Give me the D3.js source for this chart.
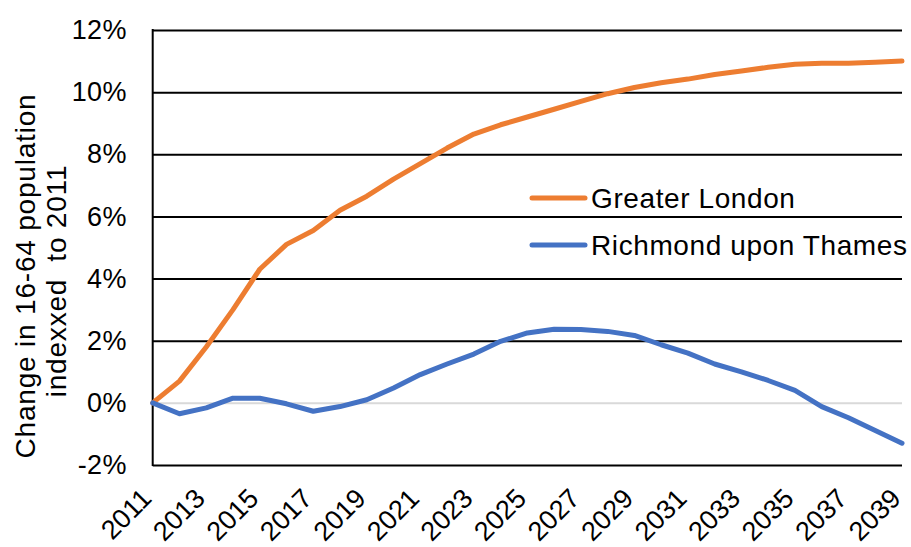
<!DOCTYPE html>
<html>
<head>
<meta charset="utf-8">
<script src="https://cdn.jsdelivr.net/npm/d3@7"></script>
<style>
  html, body { margin: 0; padding: 0; background: #fff; }
  svg { display: block; }
  text { font-family: Arial, "Liberation Sans", sans-serif; fill: #000; }
</style>
</head>
<body>
<svg id="chart" width="911" height="547"></svg>
<script>
// Working-age (16-64) population change relative to 2011, in percent
const years = d3.range(2011, 2040);
const greaterLondon = [0, 0.7, 1.8, 3.0, 4.3, 5.1, 5.55, 6.2, 6.65, 7.2, 7.7, 8.2, 8.65, 8.95, 9.2,
  9.45, 9.7, 9.95, 10.15, 10.3, 10.42, 10.57, 10.68, 10.8, 10.9, 10.93, 10.93, 10.96, 11.0];
const richmond = [0, -0.35, -0.16, 0.15, 0.15, -0.03, -0.27, -0.12, 0.1, 0.48, 0.91, 1.25, 1.57, 1.98, 2.25,
  2.37, 2.36, 2.3, 2.17, 1.87, 1.6, 1.25, 1.0, 0.72, 0.4, -0.12, -0.48, -0.89, -1.3];
const seriesNames = ["Greater London", "Richmond upon Thames"];
const seriesColors = ["#ED7D31", "#4472C4"];
const yTicks = [-2, 0, 2, 4, 6, 8, 10, 12];
const xTicks = d3.range(2011, 2040, 2);
const yTitle = ["Change in 16-64 population", "indexxed  to 2011"];

const svg = d3.select("#chart");
const plotLeft = 152.7, plotRight = 902, plotTop = 30, plotBottom = 465;

const x = d3.scaleLinear().domain([2011, 2039]).range([plotLeft, plotRight]);
const y = d3.scaleLinear().domain([-2, 12]).range([plotBottom, plotTop]);

// Horizontal gridlines (zero line in light grey)
const grid = svg.append("g")
  .attr("transform", `translate(${plotLeft},0)`)
  .call(d3.axisLeft(y).tickValues(yTicks).tickSize(-(plotRight - plotLeft)).tickFormat(""));
grid.select(".domain").remove();
grid.selectAll(".tick line")
  .attr("stroke", d => d === 0 ? "#d9d9d9" : "#000")
  .attr("stroke-width", 2);

// Left axis line
svg.append("line")
  .attr("x1", plotLeft).attr("x2", plotLeft)
  .attr("y1", plotTop - 1).attr("y2", plotBottom + 1)
  .attr("stroke", "#000").attr("stroke-width", 2);

// Y tick labels
const yAxis = svg.append("g")
  .attr("transform", `translate(${plotLeft - 26},0)`)
  .call(d3.axisLeft(y).tickValues(yTicks).tickSize(0).tickPadding(0).tickFormat(d => d + "%"));
yAxis.select(".domain").remove();
yAxis.selectAll("text")
  .style("font-size", "27px")
  .style("letter-spacing", "0.3px")
  .attr("font-family", "Arial, 'Liberation Sans', sans-serif")
  .attr("fill", "#000");

// X tick labels, rotated
const xAxis = svg.append("g")
  .attr("transform", `translate(0,${plotBottom})`)
  .call(d3.axisBottom(x).tickValues(xTicks).tickSize(0).tickFormat(d3.format("d")));
xAxis.select(".domain").remove();
xAxis.selectAll("text")
  .style("font-size", "27px")
  .attr("font-family", "Arial, 'Liberation Sans', sans-serif")
  .attr("fill", "#000")
  .attr("text-anchor", "end")
  .attr("dy", null)
  .attr("y", 0)
  .attr("transform", "translate(0,35) rotate(-45)");

// Series lines
const line = d3.line()
  .x((d, i) => x(years[i]))
  .y(d => y(d));

[greaterLondon, richmond].forEach((vals, k) => {
  svg.append("path")
    .datum(vals)
    .attr("fill", "none")
    .attr("stroke", seriesColors[k])
    .attr("stroke-width", 5)
    .attr("stroke-linejoin", "round")
    .attr("stroke-linecap", "round")
    .attr("d", line);
});

// Legend
const legend = svg.append("g").attr("transform", "translate(532,198)");
seriesNames.forEach((name, k) => {
  const g = legend.append("g").attr("transform", `translate(0,${k * 47})`);
  g.append("line")
    .attr("x1", 0).attr("x2", 53)
    .attr("stroke", seriesColors[k]).attr("stroke-width", 5)
    .attr("stroke-linecap", "round");
  g.append("text")
    .attr("x", 59).attr("y", 0).attr("dy", "0.36em")
    .style("font-size", "28px")
    .style("letter-spacing", "0.6px")
    .text(name);
});

// Y axis title, two lines
const title = svg.append("text")
  .attr("transform", "translate(0,276) rotate(-90)")
  .attr("text-anchor", "middle")
  .style("font-size", "28px")
  .style("letter-spacing", "0.8px")
  .style("white-space", "pre");
title.append("tspan").attr("x", 0).attr("y", 35).text(yTitle[0]);
title.append("tspan").attr("x", -5).attr("y", 66).text(yTitle[1]);
</script>
</body>
</html>
